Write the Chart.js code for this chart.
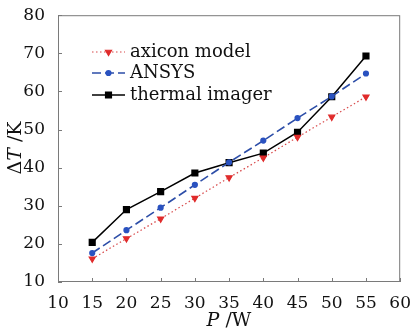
<!DOCTYPE html>
<html>
<head>
<meta charset="utf-8">
<script src="https://cdn.jsdelivr.net/npm/chart.js@4"></script>
<style>
  html, body { margin: 0; padding: 0; background: #fff; }
  #wrap { width: 414px; height: 333px; }
</style>
</head>
<body>
<div id="wrap"><canvas id="chart" width="414" height="333"></canvas></div>
<script>
// power P (W)
const powers = [15, 20, 25, 30, 35, 40, 45, 50, 55];
// temperature rise (K) per series
const axiconModel = [16.1, 21.4, 26.6, 32.0, 37.4, 42.6, 48.0, 53.3, 58.6];
const ansys = [17.6, 23.6, 29.5, 35.5, 41.4, 47.1, 53.0, 58.7, 64.7];
const thermalImager = [20.4, 29.0, 33.7, 38.6, 41.3, 43.8, 49.3, 58.6, 69.3];
const seriesNames = ['axicon model', 'ANSYS', 'thermal imager'];

const SERIF = '"DejaVu Serif", "Liberation Serif", serif';

function pts(vals) {
  return powers.map((p, i) => ({ x: p, y: vals[i] }));
}

// draws frame, inward ticks, legend and axis titles
const decorations = {
  id: 'decorations',
  afterDatasetsDraw(chart) {
    const { ctx, chartArea: a, scales } = chart;
    ctx.save();
    ctx.strokeStyle = '#7a7a7a';
    ctx.lineWidth = 1;
    ctx.strokeRect(a.left + 0.5, a.top + 0.5, a.right - a.left - 1, a.bottom - a.top - 1);

    ctx.beginPath();
    scales.x.ticks.forEach(t => {
      const x = Math.round(scales.x.getPixelForValue(t.value)) + 0.5;
      ctx.moveTo(x, a.bottom);
      ctx.lineTo(x, a.bottom - 4);
    });
    scales.y.ticks.forEach(t => {
      const y = Math.round(scales.y.getPixelForValue(t.value)) + 0.5;
      ctx.moveTo(a.left, y);
      ctx.lineTo(a.left + 4, y);
    });
    ctx.stroke();

    // legend
    const rows = [52, 73, 95];
    chart.data.datasets.forEach((ds, i) => {
      const y = rows[i];
      ctx.save();
      ctx.strokeStyle = ds.borderColor;
      ctx.lineWidth = ds.borderWidth;
      ctx.setLineDash(ds.borderDash || []);
      ctx.beginPath();
      ctx.moveTo(92, y);
      ctx.lineTo(125, y);
      ctx.stroke();
      ctx.setLineDash([]);
      ctx.fillStyle = ds.pointBackgroundColor;
      ctx.strokeStyle = ds.pointBorderColor;
      Chart.helpers.drawPoint(ctx, {
        pointStyle: ds.pointStyle,
        rotation: ds.pointRotation || 0,
        radius: ds.pointRadius,
        borderWidth: 1
      }, 108.5, y);
      ctx.restore();
      ctx.fillStyle = '#111';
      ctx.font = '18px ' + SERIF;
      ctx.textBaseline = 'middle';
      ctx.textAlign = 'left';
      ctx.fillText(ds.label, 130, y);
    });

    // axis titles with italic symbols
    function mixed(parts, cx, cy) {
      let w = 0;
      parts.forEach(p => { ctx.font = p[1] + ' 19px ' + SERIF; w += ctx.measureText(p[0]).width; });
      let x = cx - w / 2;
      parts.forEach(p => {
        ctx.font = p[1] + ' 19px ' + SERIF;
        ctx.fillText(p[0], x, cy);
        x += ctx.measureText(p[0]).width;
      });
    }
    ctx.fillStyle = '#111';
    ctx.textBaseline = 'middle';
    ctx.textAlign = 'left';
    mixed([['P', 'italic'], [' /W', 'normal']], 229, 321);
    ctx.save();
    ctx.translate(16, 148);
    ctx.rotate(-Math.PI / 2);
    mixed([['Δ', 'normal'], ['T', 'italic'], [' /K', 'normal']], 0, 0);
    ctx.restore();
    ctx.restore();
  }
};

new Chart(document.getElementById('chart').getContext('2d'), {
  type: 'line',
  data: {
    datasets: [
      {
        label: seriesNames[0],
        data: pts(axiconModel),
        borderColor: '#d8494a',
        borderWidth: 1.2,
        borderDash: [1.5, 2.5],
        pointStyle: 'triangle',
        pointRotation: 180,
        pointRadius: 3.5,
        pointBackgroundColor: '#e02b2b',
        pointBorderColor: '#e02b2b',
        tension: 0
      },
      {
        label: seriesNames[1],
        data: pts(ansys),
        borderColor: '#2d4ea8',
        borderWidth: 1.6,
        borderDash: [9, 4],
        pointStyle: 'circle',
        pointRadius: 2.3,
        pointBackgroundColor: '#2a52c0',
        pointBorderColor: '#2a52c0',
        tension: 0
      },
      {
        label: seriesNames[2],
        data: pts(thermalImager),
        borderColor: '#000',
        borderWidth: 1.5,
        pointStyle: 'rect',
        pointRadius: 4,
        pointBackgroundColor: '#000',
        pointBorderColor: '#000',
        tension: 0
      }
    ]
  },
  options: {
    responsive: false,
    animation: false,
    devicePixelRatio: 1,
    layout: { padding: { top: 15, right: 13, bottom: 0, left: 0 } },
    plugins: { legend: { display: false }, tooltip: { enabled: false } },
    scales: {
      x: {
        type: 'linear',
        min: 10, max: 60,
        afterFit(s) { s.height = 51; },
        grid: { display: false },
        border: { display: false },
        ticks: { stepSize: 5, color: '#111', padding: 3, maxRotation: 0, font: { family: SERIF, size: 17 } }
      },
      y: {
        min: 10, max: 80,
        afterFit(s) { s.width = 58; },
        grid: { display: false },
        border: { display: false },
        ticks: { stepSize: 10, color: '#111', padding: 5, font: { family: SERIF, size: 17 } }
      }
    }
  },
  plugins: [decorations]
});
</script>
</body>
</html>
